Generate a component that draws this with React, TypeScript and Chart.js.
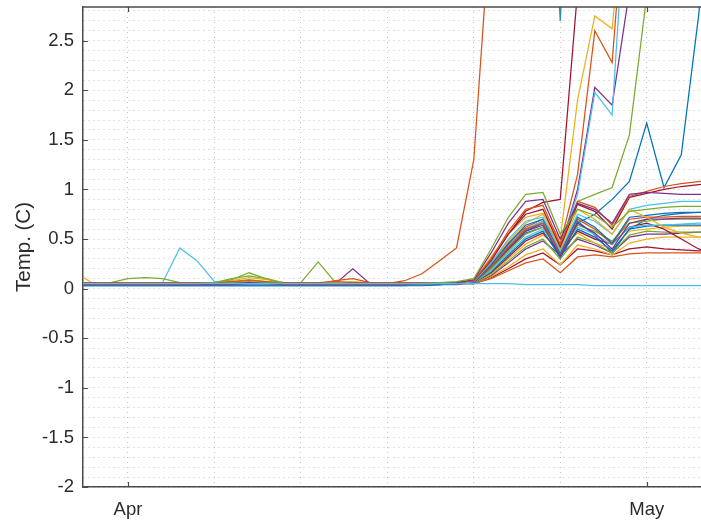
import { useEffect, useRef } from 'react';
import { Chart, registerables } from 'chart.js';

Chart.register(...registerables);

const C = {
  blue: '#0072BD',
  orange: '#D95319',
  yellow: '#EDB120',
  purple: '#7E2F8E',
  green: '#77AC30',
  cyan: '#4DBEEE',
  darkred: '#A2142F',
};

// Day offsets counted from 1 April (0 = Apr 1, 30 = May 1)
const days = [-3, -2, -1, 0, 1, 2, 3, 4, 5, 6, 7, 8, 9, 10, 11, 12, 13, 14, 15, 16, 17, 18, 19,
  20, 21, 22, 23, 24, 25, 26, 27, 28, 29, 30, 31, 32, 33, 34];

const monthDays = [0, 30];
const monthLabels = ['Apr', 'May'];
const dayGrid = [0, 5, 10, 15, 20, 25, 30];
const yLabelled = [-2, -1.5, -1, -0.5, 0, 0.5, 1, 1.5, 2, 2.5];
const Y_MIN = -2;
const Y_MAX = 2.84;
const X_MIN = -2.6;
const X_MAX = 33.14;

// Temperature series, one value per day in `days`
const s01 = [0.05, 0.05, 0.05, 0.05, 0.05, 0.05, 0.05, 0.05, 0.06, 0.09, 0.16, 0.10, 0.05, 0.05, 0.05, 0.05, 0.05, 0.05, 0.05, 0.05, 0.05, 0.06, 0.07,
  0.10, 0.40, 0.72, 0.95, 0.97, 0.55, 0.80, 0.74, 0.62, 0.78, 0.80, 0.82, 0.83, 0.83, 0.83];
const s02 = [0.04, 0.04, 0.04, 0.04, 0.04, 0.04, 0.04, 0.04, 0.04, 0.04, 0.05, 0.05, 0.04, 0.04, 0.04, 0.04, 0.04, 0.04, 0.04, 0.04, 0.05, 0.05, 0.06,
  0.09, 0.36, 0.66, 0.88, 0.90, 0.50, 0.86, 0.80, 0.66, 0.95, 0.97, 0.96, 0.95, 0.95, 0.95];
const s03 = [0.06, 0.06, 0.06, 0.06, 0.06, 0.06, 0.06, 0.06, 0.06, 0.07, 0.08, 0.07, 0.06, 0.06, 0.06, 0.07, 0.06, 0.06, 0.06, 0.06, 0.06, 0.06, 0.06,
  0.08, 0.30, 0.58, 0.80, 0.84, 0.45, 0.88, 0.82, 0.64, 0.93, 0.98, 1.03, 1.06, 1.08, 1.09];
const s04 = [0.05, 0.05, 0.05, 0.05, 0.05, 0.05, 0.05, 0.05, 0.05, 0.05, 0.05, 0.05, 0.05, 0.05, 0.05, 0.05, 0.05, 0.05, 0.05, 0.05, 0.05, 0.05, 0.06,
  0.08, 0.28, 0.55, 0.75, 0.80, 0.42, 0.85, 0.78, 0.60, 0.92, 0.96, 1.00, 1.03, 1.05, 1.06];
const s05 = [0.06, 0.06, 0.06, 0.06, 0.06, 0.06, 0.06, 0.06, 0.06, 0.08, 0.11, 0.09, 0.06, 0.06, 0.06, 0.06, 0.06, 0.06, 0.06, 0.06, 0.06, 0.06, 0.06,
  0.08, 0.32, 0.55, 0.72, 0.76, 0.40, 0.80, 0.70, 0.55, 0.80, 0.72, 0.62, 0.56, 0.52, 0.51];
const s06 = [0.04, 0.04, 0.04, 0.04, 0.04, 0.04, 0.04, 0.04, 0.04, 0.04, 0.04, 0.04, 0.04, 0.04, 0.04, 0.04, 0.04, 0.04, 0.04, 0.04, 0.04, 0.05, 0.05,
  0.07, 0.26, 0.50, 0.68, 0.72, 0.38, 0.75, 0.68, 0.55, 0.80, 0.84, 0.86, 0.88, 0.88, 0.88];
const s07 = [0.03, 0.03, 0.03, 0.03, 0.03, 0.03, 0.03, 0.03, 0.03, 0.03, 0.03, 0.03, 0.03, 0.03, 0.03, 0.03, 0.03, 0.03, 0.03, 0.03, 0.04, 0.04, 0.05,
  0.07, 0.24, 0.45, 0.64, 0.70, 0.36, 0.72, 0.62, 0.46, 0.72, 0.74, 0.76, 0.77, 0.77, 0.77];
const s08 = [0.05, 0.05, 0.05, 0.05, 0.05, 0.05, 0.05, 0.05, 0.05, 0.05, 0.05, 0.05, 0.05, 0.05, 0.05, 0.08, 0.10, 0.06, 0.05, 0.05, 0.05, 0.05, 0.06,
  0.07, 0.22, 0.42, 0.60, 0.66, 0.35, 0.70, 0.60, 0.45, 0.70, 0.72, 0.72, 0.73, 0.73, 0.73];
const s09 = [0.05, 0.05, 0.05, 0.05, 0.05, 0.05, 0.05, 0.05, 0.05, 0.05, 0.06, 0.05, 0.05, 0.05, 0.05, 0.05, 0.20, 0.05, 0.05, 0.05, 0.05, 0.05, 0.05,
  0.06, 0.22, 0.40, 0.58, 0.64, 0.33, 0.66, 0.56, 0.40, 0.66, 0.70, 0.70, 0.71, 0.71, 0.70];
const s10 = [0.06, 0.06, 0.06, 0.10, 0.11, 0.10, 0.06, 0.06, 0.06, 0.06, 0.06, 0.06, 0.06, 0.06, 0.06, 0.06, 0.06, 0.06, 0.06, 0.06, 0.06, 0.06, 0.06,
  0.06, 0.20, 0.38, 0.55, 0.62, 0.36, 0.64, 0.58, 0.48, 0.66, 0.68, 0.70, 0.70, 0.70, 0.70];
const s11 = [0.05, 0.05, 0.05, 0.05, 0.05, 0.06, 0.41, 0.28, 0.07, 0.05, 0.05, 0.05, 0.05, 0.05, 0.05, 0.05, 0.05, 0.05, 0.05, 0.05, 0.05, 0.05, 0.06,
  0.06, 0.18, 0.36, 0.52, 0.60, 0.38, 0.62, 0.55, 0.44, 0.62, 0.64, 0.64, 0.65, 0.66, 0.66];
const s12 = [0.04, 0.04, 0.04, 0.04, 0.04, 0.04, 0.04, 0.04, 0.04, 0.04, 0.04, 0.04, 0.04, 0.04, 0.04, 0.04, 0.04, 0.04, 0.04, 0.04, 0.04, 0.04, 0.05,
  0.06, 0.17, 0.34, 0.50, 0.58, 0.32, 0.60, 0.52, 0.38, 0.60, 0.63, 0.64, 0.64, 0.64, 0.64];
const s13 = [0.05, 0.05, 0.05, 0.05, 0.05, 0.05, 0.05, 0.05, 0.05, 0.05, 0.05, 0.05, 0.05, 0.05, 0.05, 0.05, 0.05, 0.05, 0.05, 0.05, 0.05, 0.05, 0.05,
  0.06, 0.16, 0.32, 0.48, 0.56, 0.36, 0.58, 0.50, 0.45, 0.62, 0.66, 0.60, 0.50, 0.40, 0.36];
const s14 = [0.16, 0.05, 0.06, 0.06, 0.06, 0.06, 0.06, 0.06, 0.06, 0.06, 0.07, 0.06, 0.06, 0.06, 0.06, 0.06, 0.07, 0.06, 0.06, 0.06, 0.06, 0.06, 0.06,
  0.06, 0.15, 0.30, 0.45, 0.54, 0.40, 0.56, 0.46, 0.40, 0.58, 0.60, 0.62, 0.63, 0.63, 0.63];
const s15 = [0.06, 0.06, 0.06, 0.06, 0.06, 0.06, 0.06, 0.06, 0.06, 0.10, 0.13, 0.10, 0.06, 0.06, 0.27, 0.06, 0.06, 0.06, 0.06, 0.06, 0.06, 0.06, 0.06,
  0.05, 0.14, 0.28, 0.42, 0.50, 0.30, 0.52, 0.46, 0.36, 0.54, 0.58, 0.57, 0.57, 0.57, 0.57];
const s16 = [0.04, 0.04, 0.04, 0.04, 0.04, 0.04, 0.04, 0.04, 0.04, 0.04, 0.04, 0.04, 0.04, 0.04, 0.04, 0.04, 0.04, 0.04, 0.04, 0.04, 0.04, 0.05, 0.05,
  0.05, 0.13, 0.26, 0.40, 0.48, 0.34, 0.50, 0.44, 0.36, 0.52, 0.55, 0.55, 0.56, 0.57, 0.57];
const s17 = [0.06, 0.06, 0.06, 0.06, 0.06, 0.06, 0.06, 0.06, 0.06, 0.06, 0.06, 0.06, 0.06, 0.06, 0.06, 0.06, 0.06, 0.06, 0.06, 0.06, 0.06, 0.06, 0.06,
  0.05, 0.12, 0.22, 0.34, 0.40, 0.24, 0.44, 0.40, 0.34, 0.46, 0.50, 0.52, 0.52, 0.52, 0.52];
const s18 = [0.05, 0.05, 0.05, 0.05, 0.05, 0.05, 0.05, 0.05, 0.05, 0.05, 0.05, 0.05, 0.05, 0.05, 0.05, 0.05, 0.05, 0.05, 0.05, 0.05, 0.05, 0.05, 0.05,
  0.05, 0.10, 0.18, 0.26, 0.30, 0.16, 0.32, 0.34, 0.32, 0.35, 0.36, 0.36, 0.36, 0.36, 0.36];
const s19 = [0.06, 0.06, 0.06, 0.06, 0.06, 0.06, 0.06, 0.06, 0.06, 0.06, 0.06, 0.06, 0.06, 0.06, 0.06, 0.06, 0.06, 0.06, 0.06, 0.06, 0.06, 0.06, 0.06,
  0.05, 0.11, 0.20, 0.30, 0.36, 0.24, 0.40, 0.38, 0.34, 0.40, 0.42, 0.40, 0.39, 0.38, 0.38];
const s20 = [0.04, 0.04, 0.04, 0.04, 0.04, 0.04, 0.04, 0.04, 0.04, 0.04, 0.04, 0.04, 0.04, 0.04, 0.04, 0.04, 0.04, 0.04, 0.04, 0.04, 0.04, 0.04, 0.05,
  0.06, 0.20, 0.40, 0.58, 0.66, 0.30, 0.68, 0.54, 0.36, 0.60, 0.70, 0.74, 0.76, 0.77, 0.77];
const s21 = [0.05, 0.05, 0.05, 0.05, 0.05, 0.05, 0.05, 0.05, 0.05, 0.05, 0.05, 0.05, 0.05, 0.05, 0.05, 0.05, 0.05, 0.05, 0.05, 0.05, 0.05, 0.05, 0.05,
  0.05, 0.05, 0.05, 0.04, 0.04, 0.04, 0.04, 0.03, 0.03, 0.03, 0.03, 0.03, 0.03, 0.03, 0.03];
const s22 = [0.04, 0.04, 0.04, 0.04, 0.04, 0.04, 0.04, 0.04, 0.04, 0.04, 0.04, 0.04, 0.04, 0.04, 0.04, 0.04, 0.04, 0.04, 0.05, 0.08, 0.15, 0.28, 0.41,
  1.30, 3.80, 6, 6, 6, 6, 6, 6, 6, 6, 6, 6, 6, 6, 6];
const s23 = [0.05, 0.05, 0.05, 0.05, 0.05, 0.05, 0.05, 0.05, 0.05, 0.05, 0.05, 0.05, 0.05, 0.05, 0.05, 0.05, 0.05, 0.05, 0.05, 0.05, 0.05, 0.05, 0.06,
  0.08, 0.30, 0.55, 0.78, 0.87, 0.90, 3.0, 5, 5, 5, 5, 5, 5, 5, 5];
const s24 = [0.06, 0.06, 0.06, 0.06, 0.06, 0.06, 0.06, 0.06, 0.06, 0.06, 0.06, 0.06, 0.06, 0.06, 0.06, 0.06, 0.06, 0.06, 0.06, 0.06, 0.06, 0.06, 0.06,
  0.07, 0.26, 0.48, 0.66, 0.75, 0.50, 1.90, 2.75, 2.62, 4.5, 5, 5, 5, 5, 5];
const s25 = [0.05, 0.05, 0.05, 0.05, 0.05, 0.05, 0.05, 0.05, 0.05, 0.05, 0.05, 0.05, 0.05, 0.05, 0.05, 0.05, 0.05, 0.05, 0.05, 0.05, 0.05, 0.05, 0.06,
  0.07, 0.25, 0.46, 0.62, 0.70, 0.45, 1.15, 2.60, 2.28, 4.5, 5, 5, 5, 5, 5];
const s26 = [0.04, 0.04, 0.04, 0.04, 0.04, 0.04, 0.04, 0.04, 0.04, 0.04, 0.04, 0.04, 0.04, 0.04, 0.04, 0.04, 0.04, 0.04, 0.04, 0.04, 0.04, 0.05, 0.05,
  0.07, 0.24, 0.44, 0.60, 0.68, 0.42, 0.95, 1.98, 1.75, 4.5, 5, 5, 5, 5, 5];
const s27 = [0.05, 0.05, 0.05, 0.05, 0.05, 0.05, 0.05, 0.05, 0.05, 0.05, 0.05, 0.05, 0.05, 0.05, 0.05, 0.05, 0.05, 0.05, 0.05, 0.05, 0.05, 0.05, 0.05,
  0.06, 0.22, 0.42, 0.60, 0.66, 0.40, 1.00, 2.03, 1.85, 3.0, 5, 5, 5, 5, 5];
const s28 = [0.05, 0.05, 0.05, 0.05, 0.05, 0.05, 0.05, 0.05, 0.05, 0.07, 0.09, 0.07, 0.05, 0.05, 0.05, 0.05, 0.05, 0.05, 0.05, 0.05, 0.05, 0.05, 0.06,
  0.06, 0.22, 0.42, 0.60, 0.68, 0.40, 0.88, 0.95, 1.02, 1.55, 2.95, 5, 5, 5, 5];
const s29 = [0.03, 0.03, 0.03, 0.03, 0.03, 0.03, 0.03, 0.03, 0.03, 0.03, 0.03, 0.03, 0.03, 0.03, 0.03, 0.03, 0.03, 0.03, 0.03, 0.03, 0.03, 0.04, 0.04,
  0.06, 0.22, 0.40, 0.56, 0.62, 0.36, 0.66, 0.75, 0.90, 1.08, 1.67, 1.02, 1.35, 2.75, 4.5];
const s30 = [null, null, null, null, null, null, null, null, null, null, null, null, null, null, null, null, null, null, null, null, null, null, null,
  6, 6, 6, 6, 6, 2.7, 6, 6, 6, 6, 6, 6, 6, 6, 6];

const seriesList: { name: string; color: string; values: (number | null)[] }[] = [
  { name: 's21', color: C.cyan, values: s21 },
  { name: 's01', color: C.green, values: s01 },
  { name: 's02', color: C.purple, values: s02 },
  { name: 's03', color: C.orange, values: s03 },
  { name: 's04', color: C.darkred, values: s04 },
  { name: 's05', color: C.yellow, values: s05 },
  { name: 's06', color: C.cyan, values: s06 },
  { name: 's07', color: C.blue, values: s07 },
  { name: 's08', color: C.orange, values: s08 },
  { name: 's09', color: C.purple, values: s09 },
  { name: 's10', color: C.green, values: s10 },
  { name: 's11', color: C.cyan, values: s11 },
  { name: 's12', color: C.blue, values: s12 },
  { name: 's13', color: C.darkred, values: s13 },
  { name: 's14', color: C.yellow, values: s14 },
  { name: 's15', color: C.green, values: s15 },
  { name: 's16', color: C.purple, values: s16 },
  { name: 's17', color: C.yellow, values: s17 },
  { name: 's18', color: C.orange, values: s18 },
  { name: 's19', color: C.darkred, values: s19 },
  { name: 's20', color: C.blue, values: s20 },
  { name: 's22', color: C.orange, values: s22 },
  { name: 's23', color: C.darkred, values: s23 },
  { name: 's24', color: C.yellow, values: s24 },
  { name: 's25', color: C.orange, values: s25 },
  { name: 's26', color: C.cyan, values: s26 },
  { name: 's27', color: C.purple, values: s27 },
  { name: 's28', color: C.green, values: s28 },
  { name: 's29', color: C.blue, values: s29 },
  { name: 's30', color: '#2a8fa6', values: s30 },
];

const AXIS_COLOR = '#4a4a4a';
const TEXT_COLOR = '#2b2b2b';
const GRID_COLOR = '#c4c4c4';
const FONT_FAMILY = '"Liberation Sans", Arial, Helvetica, sans-serif';

// Top box edge plus inward tick marks, drawn over the data like a MATLAB axes
const axesFrame = {
  id: 'axesFrame',
  afterDatasetsDraw(chart: any) {
    const { ctx, chartArea, scales } = chart;
    const { left, right, top, bottom } = chartArea;
    ctx.save();
    ctx.strokeStyle = AXIS_COLOR;
    ctx.lineWidth = 1.5;
    ctx.beginPath();
    ctx.moveTo(left, top);
    ctx.lineTo(right, top);
    ctx.stroke();
    ctx.lineWidth = 1.2;
    ctx.beginPath();
    for (const v of yLabelled) {
      const y = Math.round(scales.y.getPixelForValue(v)) + 0.5;
      ctx.moveTo(left, y);
      ctx.lineTo(left + 5, y);
    }
    for (const d of monthDays) {
      const x = Math.round(scales.x.getPixelForValue(d)) + 0.5;
      ctx.moveTo(x, bottom);
      ctx.lineTo(x, bottom - 5);
      ctx.moveTo(x, top);
      ctx.lineTo(x, top + 5);
    }
    ctx.stroke();
    ctx.restore();
  },
};

export default function App() {
  const canvasRef = useRef<HTMLCanvasElement | null>(null);

  useEffect(() => {
    const canvas = canvasRef.current;
    if (!canvas) return;

    // minor grid every 0.1 °C
    const yGrid: number[] = [];
    for (let k = -20; k <= 28; k++) yGrid.push(k / 10);

    const chart = new Chart(canvas, {
      type: 'line',
      data: {
        datasets: seriesList.map((s) => ({
          label: s.name,
          data: days.map((d, i) => ({ x: d, y: s.values[i] as number })),
          borderColor: s.color,
          backgroundColor: s.color,
          borderWidth: 1.25,
          pointRadius: 0,
          tension: 0,
          spanGaps: false,
        })),
      },
      options: {
        animation: false,
        responsive: false,
        events: [],
        layout: { padding: { top: 7, right: 0, left: 0, bottom: 0 } },
        plugins: {
          legend: { display: false },
          tooltip: { enabled: false },
        },
        scales: {
          x: {
            type: 'linear',
            min: X_MIN,
            max: X_MAX,
            afterBuildTicks: (scale: any) => {
              scale.ticks = dayGrid.map((v) => ({ value: v }));
            },
            afterFit: (scale: any) => {
              scale.height = 36;
              scale.paddingLeft = 0;
              scale.paddingRight = 0;
            },
            ticks: {
              autoSkip: false,
              maxRotation: 0,
              padding: 12,
              color: TEXT_COLOR,
              font: { family: FONT_FAMILY, size: 18.5 },
              callback: (v: any) => {
                const idx = monthDays.indexOf(Number(v));
                return idx >= 0 ? monthLabels[idx] : '';
              },
            },
            grid: { color: GRID_COLOR, lineWidth: 1, drawTicks: false },
            border: { display: true, color: AXIS_COLOR, width: 1.5, dash: [1, 4] },
          },
          y: {
            type: 'linear',
            min: Y_MIN,
            max: Y_MAX,
            afterBuildTicks: (scale: any) => {
              scale.ticks = yGrid.map((v) => ({ value: v }));
            },
            afterFit: (scale: any) => {
              scale.width = 83;
              scale.paddingTop = 0;
              scale.paddingBottom = 0;
            },
            ticks: {
              autoSkip: false,
              padding: 9,
              color: TEXT_COLOR,
              font: { family: FONT_FAMILY, size: 18.5 },
              callback: (v: any) => {
                const n = Number(v);
                return yLabelled.some((t) => Math.abs(t - n) < 1e-6) ? String(n) : '';
              },
            },
            grid: { color: GRID_COLOR, lineWidth: 1, drawTicks: false },
            border: { display: true, color: AXIS_COLOR, width: 1.5, dash: [1, 4] },
            title: {
              display: true,
              text: 'Temp. (C)',
              color: TEXT_COLOR,
              font: { family: FONT_FAMILY, size: 20.5 },
              padding: { top: 12, bottom: 0 },
            },
          },
        },
      },
      plugins: [axesFrame],
    });

    return () => chart.destroy();
  }, []);

  return (
    <div style={{ position: 'fixed', left: 0, top: 0, width: 701, height: 523, background: '#ffffff' }}>
      <canvas ref={canvasRef} width={701} height={523} style={{ display: 'block' }} />
    </div>
  );
}
